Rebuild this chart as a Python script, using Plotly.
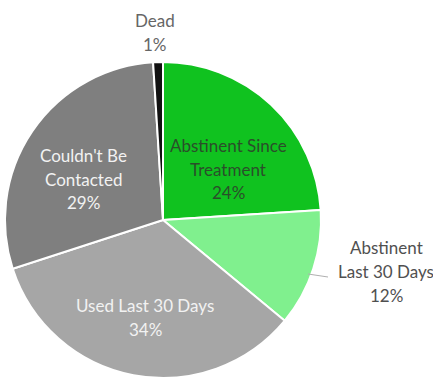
import plotly.graph_objects as go

categories = ["Abstinent Since Treatment", "Abstinent Last 30 Days", "Used Last 30 Days",
              "Couldn't Be Contacted", "Dead"]
values = [24, 12, 34, 29, 1]
label_lines = [["Abstinent Since", "Treatment"], ["Abstinent", "Last 30 Days"],
               ["Used Last 30 Days"], ["Couldn't Be", "Contacted"], ["Dead"]]

colors = ["#10c21f", "#80f08e", "#a6a6a6", "#7f7f7f", "#111111"]
text_colors = ["#2a4f2a", "#505050", "#f2f2f2", "#f2f2f2", "#666666"]
# label anchor (x center, first-line y) in pixels from top-left
label_pos = [(228, 145), (386, 247), (145, 305), (83, 155), (155, 20)]

W, H = 433, 385
cx, cy, r = 163, 220, 158

fig = go.Figure(go.Pie(
    labels=categories, values=values, sort=False, direction="clockwise", rotation=0,
    marker=dict(colors=colors, line=dict(color="white", width=2)),
    textinfo="none", hoverinfo="label+percent", showlegend=False,
    domain=dict(x=[(cx - r) / W, (cx + r) / W], y=[(H - cy - r) / H, (H - cy + r) / H]),
))

total = sum(values)
annotations = []
spacing = 24
for lines, v, (x, y), col in zip(label_lines, values, label_pos, text_colors):
    pct = f"{round(100 * v / total)}%"
    for i, t in enumerate(lines + [pct]):
        annotations.append(dict(
            x=x / W, y=1 - (y + i * spacing) / H, xref="paper", yref="paper",
            text=t, showarrow=False, xanchor="center", yanchor="middle",
            font=dict(family="Lato", size=17, color=col)))

fig.update_layout(
    width=W, height=H, margin=dict(l=0, r=0, t=0, b=0),
    paper_bgcolor="white", plot_bgcolor="white",
    annotations=annotations,
    shapes=[dict(type="line", xref="paper", yref="paper",
                 x0=308 / W, y0=1 - 274 / H, x1=328 / W, y1=1 - 277 / H,
                 line=dict(color="#b0b0b0", width=1))],
)

fig.write_html("out.html", config={"displayModeBar": False},
               post_script="document.body.style.margin='0';document.body.style.overflow='hidden';")
